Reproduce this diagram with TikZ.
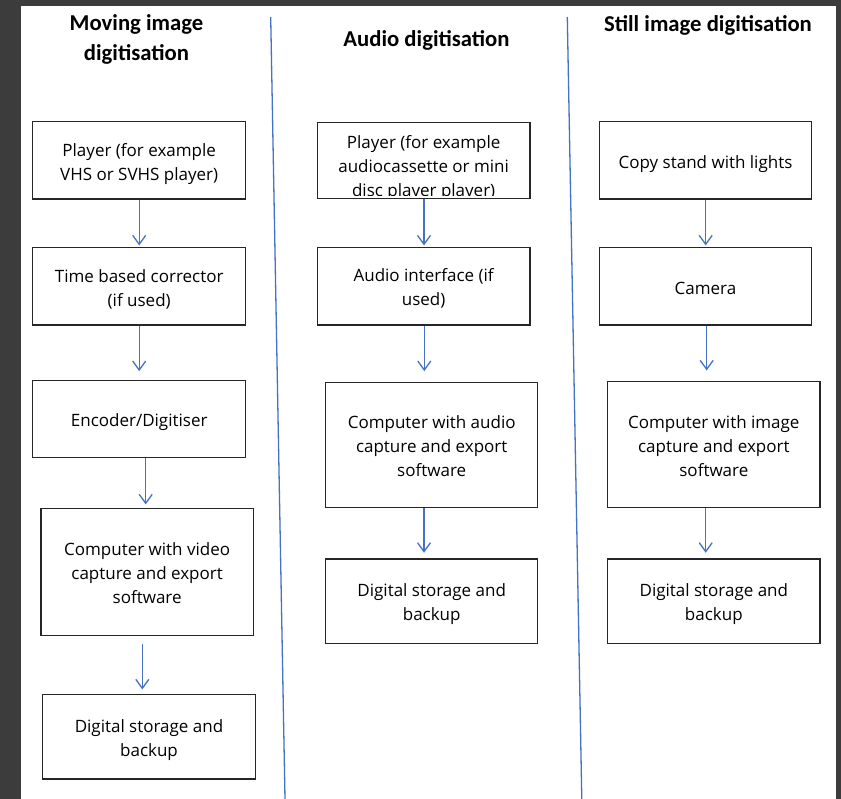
\documentclass[tikz,border=0pt]{standalone}
\usepackage{fontspec}
\setmainfont{Open Sans}
\newfontfamily\titlefont{Carlito}
\usetikzlibrary{arrows.meta,calc}
\definecolor{frame}{HTML}{3C3C3C}
\definecolor{lineblue}{HTML}{4472C4}
\definecolor{boxline}{HTML}{262626}
\newcommand{\bxtop}{\rule{0pt}{20pt}}
\newcommand{\bxbot}{\rule[-4.5pt]{0pt}{4.5pt}}
\newcommand{\bxone}{\rule[-4.5pt]{0pt}{24.5pt}}
\begin{document}
\begin{tikzpicture}[x=1pt,y=-1pt,
  box/.style={draw=boxline,line width=1.1pt,fill=white,inner sep=0pt,align=center,
    font=\fontsize{17}{24}\selectfont},
  boxtext/.style={inner sep=0pt,align=center,font=\fontsize{17}{24}\selectfont},
  title/.style={inner sep=0pt,align=center,font=\titlefont\bfseries\fontsize{22.7}{30}\selectfont},
  arr/.style={draw=lineblue,line width=1.3pt,-{Straight Barb[length=9pt,width=13pt,line width=1.3pt]}},
  divider/.style={draw=lineblue,line width=1.3pt}]
\useasboundingbox (0,0) rectangle (841,799);
\fill[white] (0,0) rectangle (841,799);
\fill[frame] (0,0) rectangle (21,799);
\fill[frame] (0,0) rectangle (841,6);
\fill[frame] (836,0) rectangle (841,799);

% dividers
\draw[divider] (270.7,17) -- (285,799);
\draw[divider] (567.3,17) -- (581.8,799);

% titles
\node[title] (T1) at (136.5,39) {Moving image\\digitisation};
\node[title,anchor=base] (T2) at (426.5,47) {Audio digitisation};
\node[title,anchor=base] (T3) at (708,32) {Still image digitisation};

% column 1
\node[box,minimum width=213pt,minimum height=77.3pt] (B1) at (139.2,160.35) {\bxtop Player (for example\\VHS or SVHS player)\bxbot};
\node[box,minimum width=213pt,minimum height=77.3pt] (B2) at (139.2,286.35) {\bxtop Time based corrector\\(if used)\bxbot};
\node[box,minimum width=213pt,minimum height=77pt] (B3) at (139.2,419.2) {\bxone Encoder/Digitiser};
\node[box,minimum width=212.3pt,minimum height=127.4pt] (B4) at (147.15,572) {\bxtop Computer with video\\capture and export\\software\bxbot};
\node[box,minimum width=212.3pt,minimum height=84.3pt] (B5) at (149,736.85) {\bxtop Digital storage and\\backup\bxbot};

% column 2
\node[box,minimum width=212.7pt,minimum height=76pt] (A1) at (423.65,160.3) {};
\begin{scope}
  \clip ([xshift=0.55pt,yshift=3pt]A1.south west) rectangle ([xshift=-0.55pt,yshift=-0.55pt]A1.north east);
  \node[boxtext] (A1t) at (423.65,164.75) {\bxtop Player (for example\\audiocassette or mini\\disc player player)\bxbot};
\end{scope}
\node[box,minimum width=212.7pt,minimum height=77.7pt] (A2) at (423.65,286.15) {\bxtop Audio interface (if\\used)\bxbot};
\node[box,minimum width=212pt,minimum height=125.4pt] (A3) at (431.7,445) {\bxtop Computer with audio\\capture and export\\software\bxbot};
\node[box,minimum width=212pt,minimum height=84.3pt] (A4) at (431.7,601.15) {\bxtop Digital storage and\\backup\bxbot};

% column 3
\node[box,minimum width=212.4pt,minimum height=77.3pt] (S1) at (705.5,160.35) {\bxone Copy stand with lights};
\node[box,minimum width=212.4pt,minimum height=77.3pt] (S2) at (705.5,286.35) {\bxone Camera};
\node[box,minimum width=212.3pt,minimum height=126pt] (S3) at (713.85,444.7) {\bxtop Computer with image\\capture and export\\software\bxbot};
\node[box,minimum width=212.3pt,minimum height=84.3pt] (S4) at (713.85,601.15) {\bxtop Digital storage and\\backup\bxbot};

% arrows
\draw[arr,shorten >=1.7pt] (B1.south) -- (B1.south |- B2.north);
\draw[arr,shorten >=9pt] (B2.south) -- (B2.south |- B3.north);
\draw[arr,shorten >=3.3pt] ([xshift=6.5pt]B3.south) -- ([xshift=6.5pt]B3.south |- B4.north);
\draw[arr,shorten <=7.3pt,shorten >=4.7pt] ([xshift=-4.85pt]B4.south) -- ([xshift=-4.85pt]B4.south |- B5.north);

\draw[arr,shorten >=1.3pt] ([xshift=0.35pt]A1.south) -- ([xshift=0.35pt]A1.south |- A2.north);
\draw[arr,shorten >=10.6pt] ([xshift=0.65pt]A2.south) -- ([xshift=0.65pt]A2.south |- A3.north);
\draw[arr,shorten >=5.7pt] ([xshift=-7.7pt]A3.south) -- ([xshift=-7.7pt]A3.south |- A4.north);

\draw[arr,shorten >=1.7pt] ([xshift=0.2pt]S1.south) -- ([xshift=0.2pt]S1.south |- S2.north);
\draw[arr,shorten >=10.7pt] ([xshift=1.2pt]S2.south) -- ([xshift=1.2pt]S2.south |- S3.north);
\draw[arr,shorten >=5.7pt] ([xshift=-8.15pt]S3.south) -- ([xshift=-8.15pt]S3.south |- S4.north);
\end{tikzpicture}
\end{document}
